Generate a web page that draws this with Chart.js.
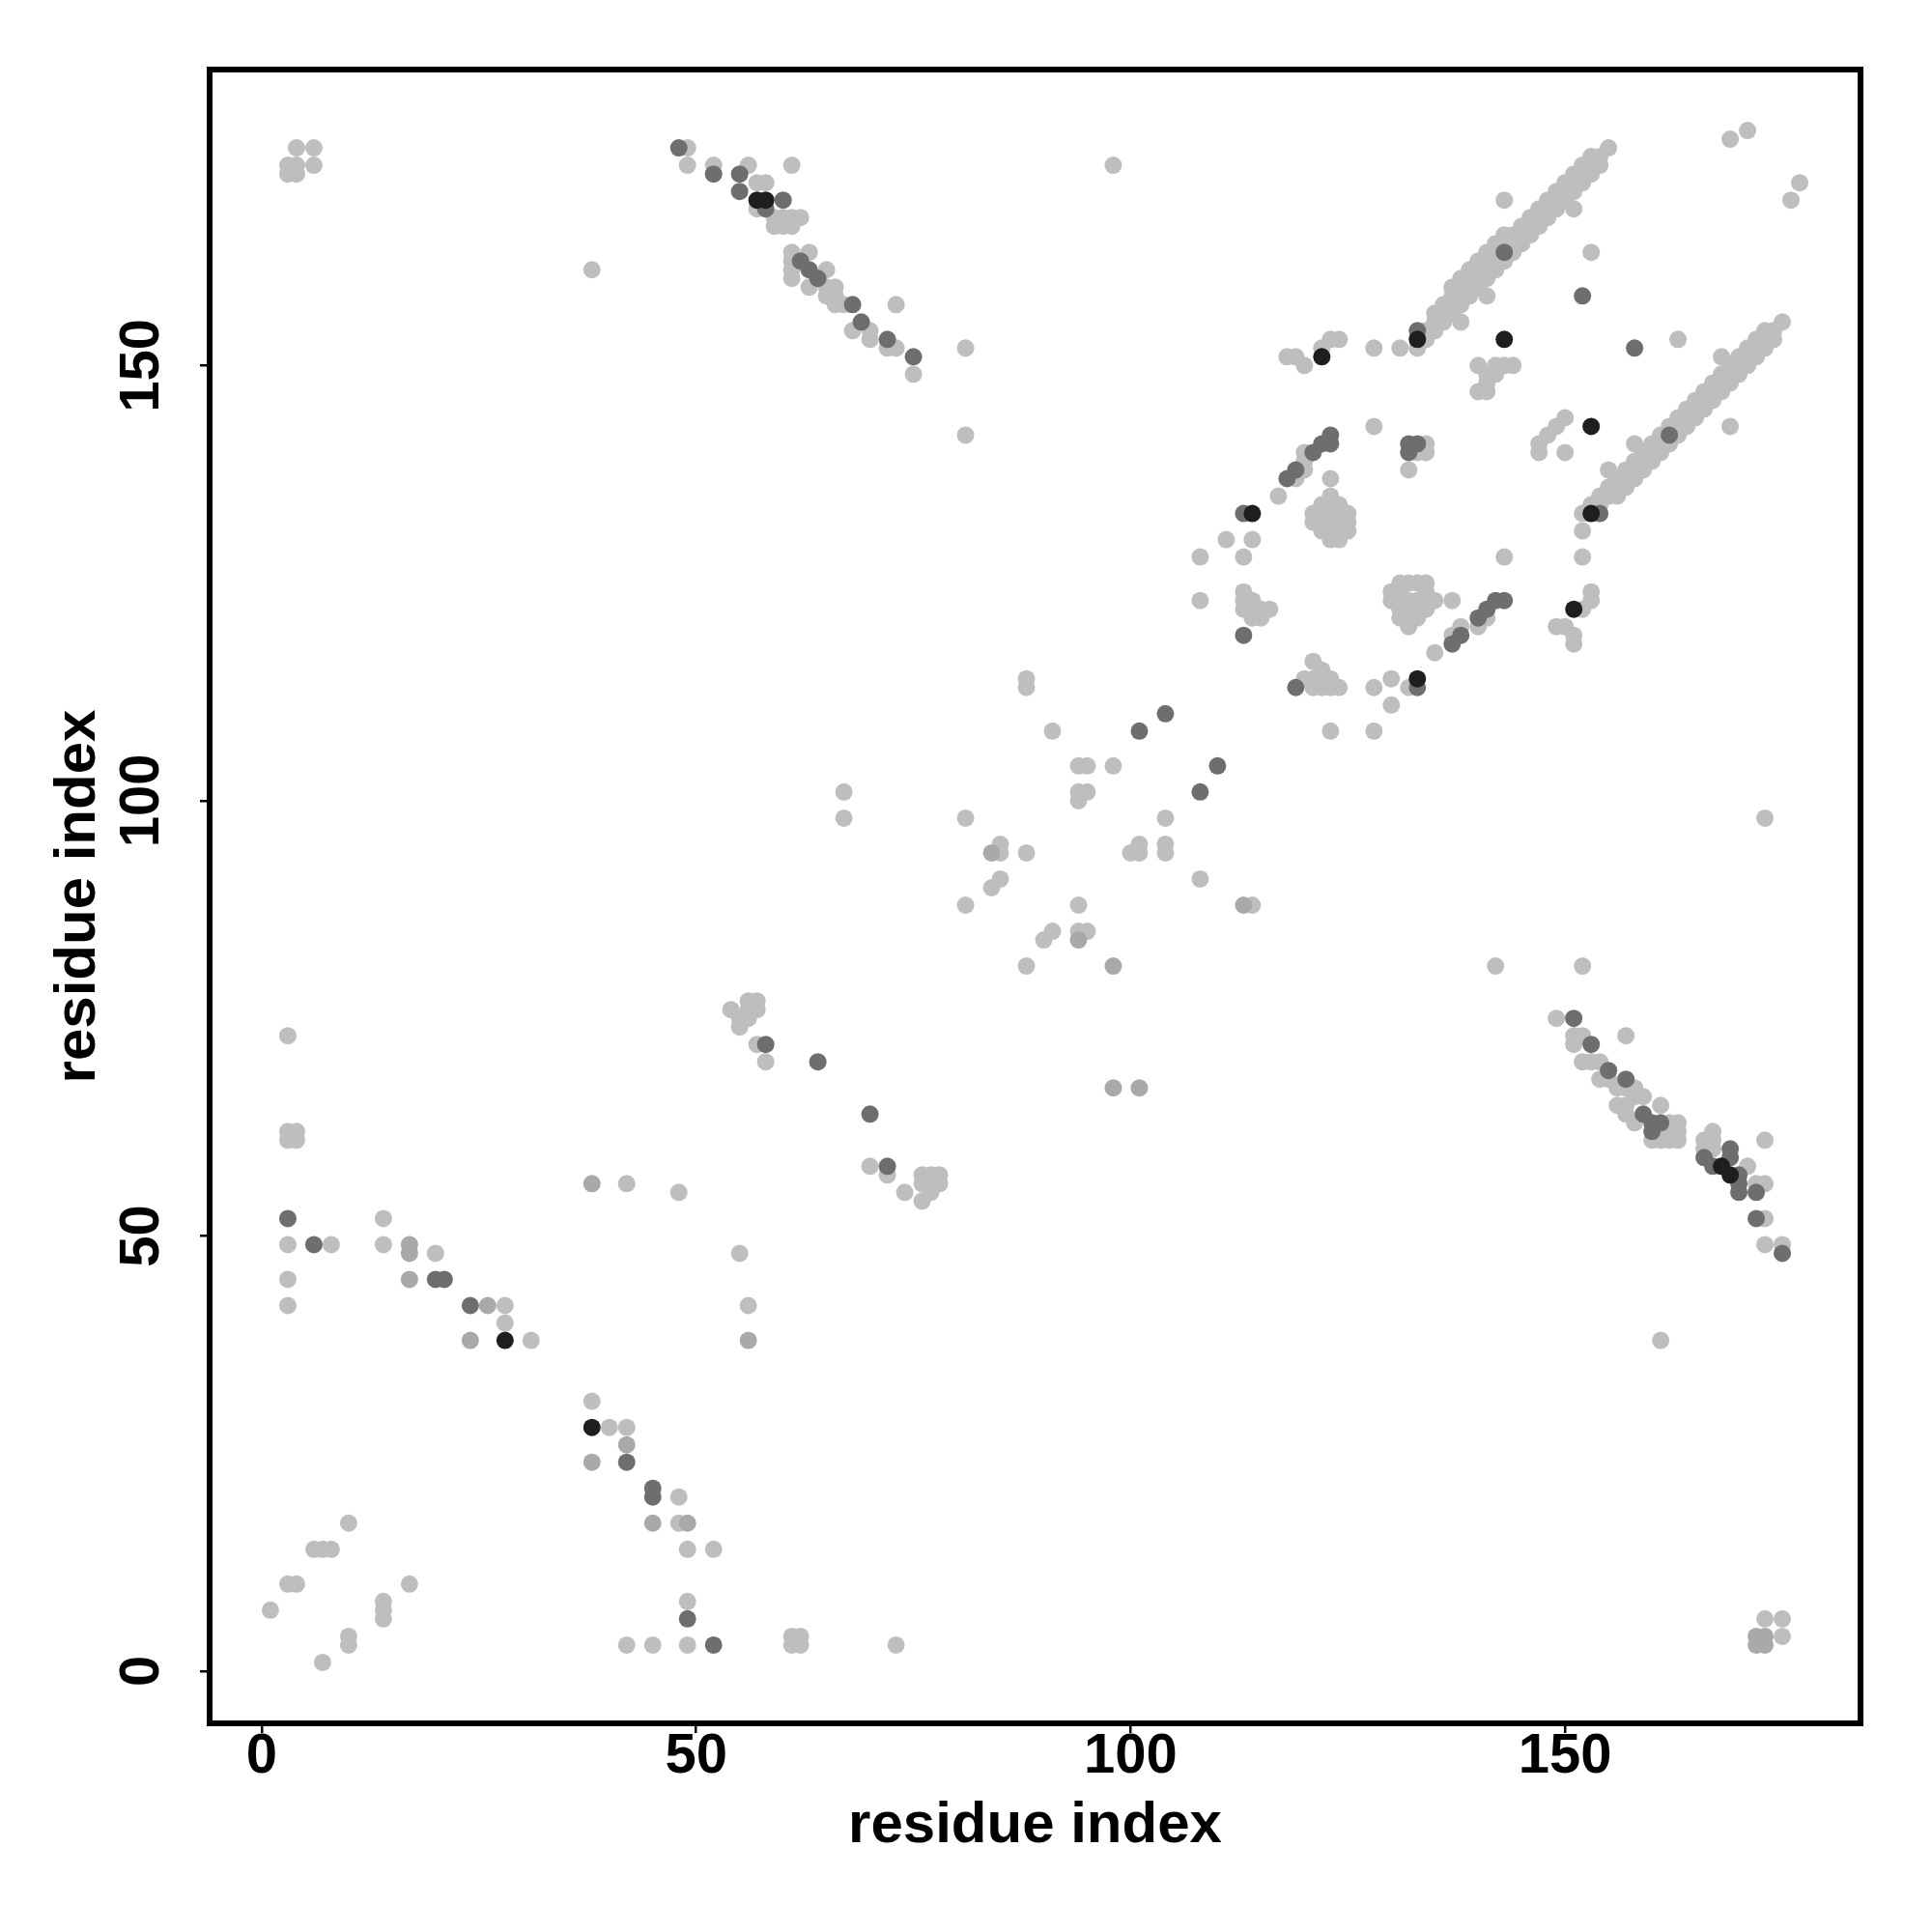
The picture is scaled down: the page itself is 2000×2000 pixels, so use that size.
<!DOCTYPE html>
<html>
<head>
<meta charset="utf-8">
<script src="https://cdn.jsdelivr.net/npm/chart.js@4/dist/chart.umd.min.js"></script>
<style>
    body { margin: 0; background: #fff; }
    #wrap { width: 2000px; height: 2000px; }
</style>
</head>
<body>
<div id="wrap"><canvas id="contactMap" width="2000" height="2000"></canvas></div>
<script>
// residue contact map, points grouped by shade
const axisTitle = 'residue index';
const tickValues = [0, 50, 100, 150];

const blackPts = [[28,38],[38,28],[57,169],[58,169],[133,153],[143,153],[122,151],[153,143],[114,133],
    [153,133],[151,122],[133,114],[168,58],[169,57]];

const darkPts = [[3,52],[6,49],[20,45],[21,45],[24,42],[42,24],[45,21],[45,20],[49,6],[52,3],[58,72],
    [64,70],[70,64],[72,58],[48,175],[52,172],[55,172],[55,170],[60,169],[58,168],[62,162],[63,161],
    [64,160],[68,157],[69,155],[72,153],[75,151],[101,108],[104,110],[108,101],[110,104],[119,113],
    [133,154],[143,163],[152,158],[158,152],[162,142],[123,142],[123,141],[122,141],[121,140],[119,138],
    [118,137],[132,141],[133,141],[132,140],[113,133],[154,133],[113,119],[142,123],[143,123],[141,122],
    [140,121],[138,119],[137,118],[133,113],[151,75],[153,72],[155,69],[157,68],[159,64],[160,63],
    [161,63],[160,62],[166,59],[169,60],[169,59],[167,58],[170,57],[170,56],[170,55],[172,55],[172,52],
    [175,48]];

const midPts = [[24,38],[56,38],[17,49],[17,48],[17,45],[26,42],[38,24],[42,26],[45,17],[49,17],[38,56],
    [84,94],[94,84],[113,88],[98,81],[98,67],[101,67],[172,4],[173,4],[172,3],[173,3]];

const lightPts = [
    // lower left
    [1,7],[7,1],[10,3],[10,4],[14,6],[14,7],[14,8],[3,10],[4,10],[17,10],[6,14],[7,14],[8,14],[10,17],
    [42,3],[45,3],[49,3],[61,3],[62,3],[61,4],[62,4],[73,3],[49,8],[49,14],[52,14],[48,17],[48,20],
    [38,31],[40,28],[42,28],[28,40],[31,38],[28,42],[3,42],[3,45],[3,49],[8,49],[14,49],[14,52],[20,48],
    [3,73],[3,62],[4,62],[3,61],[4,61],[42,56],[48,55],[55,48],[56,42],
    [54,76],[55,75],[55,74],[56,77],[57,77],[56,76],[57,76],[56,75],[57,72],[58,70],
    [70,58],[72,57],[74,55],[76,54],[76,57],[77,57],[78,57],[76,56],[77,56],[78,56],[77,55],
    // middle
    [67,101],[67,98],[81,98],[88,114],[88,113],[91,108],[94,104],[95,104],[98,104],[94,101],[95,101],
    [94,100],[104,98],[85,95],[85,94],[88,94],[101,95],[100,94],[101,94],[104,95],[104,94],[85,91],
    [84,90],[108,91],[81,88],[94,88],[114,88],[91,85],[90,84],[94,85],[95,85],[88,81],
    [81,152],[81,142],[98,173],[38,161],[142,81],[152,81],[173,98],[161,38],
    // upper left
    [4,175],[6,175],[3,173],[4,173],[6,173],[3,172],[4,172],
    [49,175],[49,173],[52,173],[56,173],[61,173],[57,171],[58,171],[57,168],[59,167],[60,167],[61,167],
    [62,167],[59,166],[60,166],[61,166],[61,163],[63,163],[61,162],[61,161],[61,160],[65,161],[63,159],
    [65,159],[66,159],[65,158],[66,158],[67,157],[66,157],[73,157],[68,154],[70,154],[70,153],[72,152],
    [73,152],[75,149],
    // upper right band
    [133,152],[134,153],[134,154],[135,154],[135,155],[135,156],[136,155],[136,156],[136,157],
    [137,156],[137,157],[137,158],[137,159],[138,155],[138,157],[138,158],[138,160],[139,158],[139,159],
    [139,160],[139,161],[140,159],[140,160],[140,161],[140,162],[141,158],[141,160],[141,161],[141,162],
    [141,163],[142,161],[142,162],[142,163],[142,164],[143,162],[143,164],[143,165],[144,163],[144,164],
    [144,165],[145,164],[145,165],[145,166],[146,165],[146,166],[146,167],[147,166],[147,167],[147,168],
    [148,167],[148,168],[148,169],[149,168],[149,169],[149,170],[150,169],[150,170],[150,171],[151,168],
    [151,170],[151,171],[151,172],[152,171],[152,172],[152,173],[153,172],[153,173],[153,174],[153,163],
    [154,173],[154,174],[155,175],[143,169],[131,152],[128,152],[124,153],[123,153],[122,152],[118,151],
    [119,151],[120,150],[163,153],[169,176],[171,177],[177,171],[176,169],[168,151],
    [140,150],[142,150],[143,150],[144,150],[141,149],[142,149],[141,148],[140,147],[141,147],
    // lower right band
    [150,144],[152,133],[153,134],[154,134],[154,135],[155,135],[155,136],[155,138],[156,135],[156,136],
    [156,137],[157,136],[157,137],[157,138],[158,137],[158,138],[158,139],[158,141],[159,138],[159,139],
    [159,140],[160,139],[160,140],[160,141],[161,140],[161,141],[161,142],[162,141],[162,143],[163,142],
    [163,143],[163,144],[164,143],[164,144],[164,145],[165,144],[165,145],[165,146],[166,145],[166,146],
    [166,147],[167,146],[167,147],[167,148],[168,147],[168,148],[168,149],[169,148],[169,149],[169,150],
    [169,143],[170,149],[170,150],[170,151],[171,150],[171,151],[171,152],[172,151],[172,152],[172,153],
    [173,152],[173,153],[173,154],[174,153],[174,154],[175,155],
    // ring
    [132,138],[134,141],[134,140],[133,140],[147,141],[148,142],[149,143],[147,140],[150,140],[128,143],
    [120,140],[120,139],[119,137],[120,138],[117,135],[123,137],
    [123,135],[122,134],[123,134],[124,134],[121,133],[122,133],[123,133],[124,133],[125,133],[121,132],
    [122,132],[123,132],[124,132],[125,132],[122,131],[123,131],[124,131],[125,131],[123,130],[124,130],
    [114,130],[113,128],[111,130],[108,128],[108,123],
    [113,124],[113,123],[114,123],[113,122],[114,122],[115,122],[116,122],[114,121],[115,121],
    [152,131],[152,128],[143,128],[153,124],[152,122],[153,123],[149,120],[150,120],[151,119],[151,118],
    [130,124],[131,125],[132,125],[133,125],[134,125],[130,123],[131,123],[132,123],[133,123],[134,123],
    [135,123],[131,122],[132,122],[133,122],[134,122],[131,121],[132,121],[133,121],[132,120],[134,124],
    [131,124],[137,123],[141,121],[140,120],[138,120],[137,119],[135,117],
    [121,116],[122,115],[121,114],[122,114],[123,114],[121,113],[122,113],[123,113],[124,113],[120,114],
    [128,113],[130,114],[130,111],[132,113],[123,108],[128,108],
    // lower right
    [149,75],[157,73],[151,73],[152,73],[151,72],[152,70],[153,70],[154,70],[154,68],[155,68],[156,67],
    [157,67],[158,67],[156,65],[157,65],[158,66],[159,66],[157,64],[158,63],[161,65],[162,63],[163,63],
    [160,61],[161,61],[162,61],[163,61],[162,62],[163,62],[166,61],[166,60],[167,62],[167,61],[167,60],
    [171,58],[172,56],[173,56],[173,61],[173,52],[173,49],[175,49],[173,6],[175,6],[175,4]
];

const fontFamily = "'Liberation Sans', Arial, Helvetica, sans-serif";

function toXY(list) {
    return list.map(p => ({ x: p[0], y: p[1] }));
}

function makeSet(list, color, order) {
    return {
        data: toXY(list),
        backgroundColor: color,
        borderWidth: 0,
        pointRadius: 9,
        pointHoverRadius: 9,
        order: order,
    };
}

// box round the plot area, like R's box()
const boxPlugin = {
    id: 'box',
    afterDatasetsDraw(chart) {
        const { ctx, chartArea } = chart;
        ctx.save();
        ctx.strokeStyle = '#000';
        ctx.lineWidth = 6;
        ctx.strokeRect(chartArea.left, chartArea.top,
            chartArea.right - chartArea.left, chartArea.bottom - chartArea.top);
        ctx.restore();
    }
};

function setTicks(scale) {
    scale.ticks = tickValues.map(v => ({ value: v }));
}

let chart = new Chart(document.getElementById('contactMap'), {
    type: 'scatter',
    data: {
        datasets: [
            makeSet(lightPts, '#bebebe', 3),
            makeSet(midPts, '#a9a9a9', 2),
            makeSet(darkPts, '#6e6e6e', 1),
            makeSet(blackPts, '#1e1e1e', 0),
        ]
    },
    options: {
        responsive: false,
        animation: false,
        layout: {
            padding: { top: 72, right: 74, left: 0, bottom: 0 }
        },
        plugins: {
            legend: { display: false },
            tooltip: { enabled: false },
        },
        scales: {
            x: {
                type: 'linear',
                min: -6,
                max: 184,
                afterBuildTicks: setTicks,
                afterFit: s => { s.height = 216; },
                border: { display: false },
                grid: {
                    drawOnChartArea: false,
                    tickLength: 10,
                    color: '#000',
                    lineWidth: 2.5,
                },
                ticks: {
                    autoSkip: false,
                    maxRotation: 0,
                    padding: -4,
                    color: '#000',
                    font: { family: fontFamily, size: 58, weight: 'bold', lineHeight: 1 },
                },
                title: {
                    display: true,
                    text: axisTitle,
                    color: '#000',
                    padding: { top: 0, bottom: 74 },
                    font: { family: fontFamily, size: 60, weight: 'bold', lineHeight: 1.2 },
                }
            },
            y: {
                type: 'linear',
                min: -6,
                max: 184,
                afterBuildTicks: setTicks,
                afterFit: s => { s.width = 217; },
                border: { display: false },
                grid: {
                    drawOnChartArea: false,
                    tickLength: 10,
                    color: '#000',
                    lineWidth: 2.5,
                },
                ticks: {
                    autoSkip: false,
                    minRotation: 90,
                    maxRotation: 90,
                    crossAlign: 'center',
                    padding: 11,
                    color: '#000',
                    font: { family: fontFamily, size: 58, weight: 'bold', lineHeight: 1 },
                },
                title: {
                    display: true,
                    text: axisTitle,
                    color: '#000',
                    padding: { top: 45, bottom: 0 },
                    font: { family: fontFamily, size: 60, weight: 'bold', lineHeight: 1.2 },
                }
            }
        }
    },
    plugins: [boxPlugin]
});
</script>
</body>
</html>
